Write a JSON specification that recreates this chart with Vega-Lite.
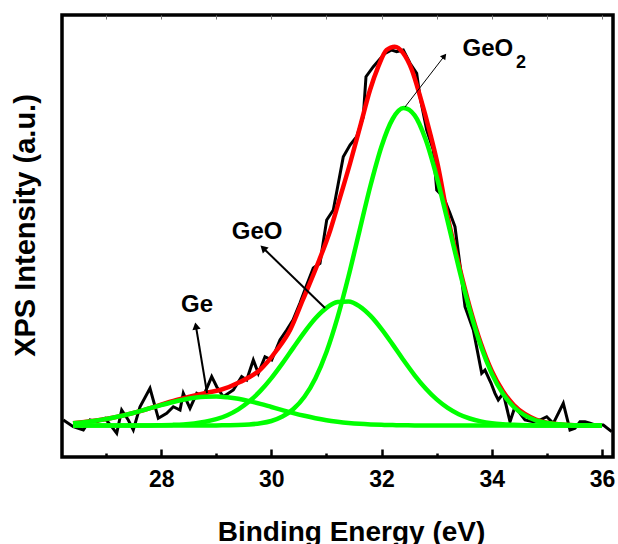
{
  "$schema": "https://vega.github.io/schema/vega-lite/v6.json",
  "width": 551,
  "height": 442,
  "autosize": {"type": "none"},
  "padding": {"left": 62, "top": 15, "right": 5, "bottom": 87},
  "config": {
    "font": "Liberation Sans",
    "view": {"stroke": "#000", "strokeWidth": 3.5},
    "axis": {"domain": false, "grid": false}
  },
  "datasets": {
    "raw": [
      {"E": 26.224, "I": 37}, {"E": 26.405, "I": 30.3}, {"E": 26.587, "I": 27}, {"E": 26.708, "I": 37},
      {"E": 26.83, "I": 35.3}, {"E": 26.98, "I": 38.7}, {"E": 27.102, "I": 30.3}, {"E": 27.193, "I": 23.7},
      {"E": 27.283, "I": 47}, {"E": 27.403, "I": 37}, {"E": 27.494, "I": 27}, {"E": 27.616, "I": 50.3},
      {"E": 27.797, "I": 68.7}, {"E": 27.948, "I": 38.7}, {"E": 28.1, "I": 43.7}, {"E": 28.22, "I": 50.3},
      {"E": 28.342, "I": 47}, {"E": 28.401, "I": 63.7}, {"E": 28.523, "I": 48.7}, {"E": 28.645, "I": 63.7},
      {"E": 28.764, "I": 60.3}, {"E": 28.917, "I": 80.3}, {"E": 29.008, "I": 70.3}, {"E": 29.127, "I": 60.3},
      {"E": 29.309, "I": 67}, {"E": 29.461, "I": 80.3}, {"E": 29.552, "I": 77}, {"E": 29.672, "I": 97},
      {"E": 29.763, "I": 83.7}, {"E": 29.884, "I": 100.3}, {"E": 30.006, "I": 97}, {"E": 30.156, "I": 117},
      {"E": 30.278, "I": 127}, {"E": 30.392, "I": 137}, {"E": 30.519, "I": 154}, {"E": 30.641, "I": 172},
      {"E": 30.761, "I": 189}, {"E": 30.882, "I": 193.7}, {"E": 31.004, "I": 237}, {"E": 31.124, "I": 247},
      {"E": 31.209, "I": 272}, {"E": 31.305, "I": 300.3}, {"E": 31.427, "I": 312}, {"E": 31.548, "I": 320.3},
      {"E": 31.668, "I": 340.3}, {"E": 31.717, "I": 380.3}, {"E": 31.85, "I": 390.3}, {"E": 32.062, "I": 403.7},
      {"E": 32.184, "I": 407}, {"E": 32.274, "I": 405.3}, {"E": 32.394, "I": 407}, {"E": 32.516, "I": 393.7},
      {"E": 32.637, "I": 383.7}, {"E": 32.697, "I": 360.3}, {"E": 32.819, "I": 327}, {"E": 32.939, "I": 307},
      {"E": 33.001, "I": 267}, {"E": 33.12, "I": 260.3}, {"E": 33.242, "I": 243.7}, {"E": 33.332, "I": 230.3},
      {"E": 33.423, "I": 192}, {"E": 33.514, "I": 150.3}, {"E": 33.665, "I": 127}, {"E": 33.817, "I": 83.7},
      {"E": 33.877, "I": 87}, {"E": 33.986, "I": 74}, {"E": 34.058, "I": 63.7}, {"E": 34.118, "I": 57},
      {"E": 34.209, "I": 63.7}, {"E": 34.331, "I": 35.3}, {"E": 34.421, "I": 50.3}, {"E": 34.512, "I": 43.7},
      {"E": 34.603, "I": 37}, {"E": 34.754, "I": 35.3}, {"E": 34.875, "I": 37}, {"E": 34.997, "I": 40.3},
      {"E": 35.117, "I": 33.7}, {"E": 35.298, "I": 53.7}, {"E": 35.42, "I": 27}, {"E": 35.51, "I": 28.7},
      {"E": 35.601, "I": 35.3}, {"E": 35.692, "I": 35.3}, {"E": 35.782, "I": 33.7}, {"E": 35.873, "I": 32},
      {"E": 36.024, "I": 32}, {"E": 36.176, "I": 25.3}
    ],
    "envelope": [
      {"E": 26.4, "I": 33.7}, {"E": 27.07, "I": 38.7}, {"E": 27.67, "I": 46.7}, {"E": 28.28, "I": 57},
      {"E": 28.83, "I": 64.3}, {"E": 29.07, "I": 67}, {"E": 29.43, "I": 75}, {"E": 29.79, "I": 87},
      {"E": 30.1, "I": 107}, {"E": 30.34, "I": 127}, {"E": 30.57, "I": 157}, {"E": 30.82, "I": 190.3},
      {"E": 31.07, "I": 227}, {"E": 31.25, "I": 260.3}, {"E": 31.43, "I": 294}, {"E": 31.61, "I": 330.3},
      {"E": 31.79, "I": 367}, {"E": 31.94, "I": 390.3}, {"E": 32.09, "I": 407}, {"E": 32.24, "I": 410.3},
      {"E": 32.39, "I": 404}, {"E": 32.55, "I": 387}, {"E": 32.7, "I": 360.3}, {"E": 32.88, "I": 324},
      {"E": 33.02, "I": 292}, {"E": 33.2, "I": 240}, {"E": 33.4, "I": 193}, {"E": 33.6, "I": 150},
      {"E": 33.8, "I": 114}, {"E": 34.0, "I": 86}, {"E": 34.2, "I": 66}, {"E": 34.4, "I": 52},
      {"E": 34.6, "I": 43}, {"E": 34.8, "I": 37.5}, {"E": 35.0, "I": 34.3}, {"E": 35.2, "I": 32.8},
      {"E": 35.4, "I": 32}, {"E": 35.6, "I": 31.6}, {"E": 36.0, "I": 31.5}
    ],
    "peaks": [
      {"c": "Ge", "E": 26.4, "I": 33.7}, {"c": "Ge", "E": 26.6, "I": 34.8}, {"c": "Ge", "E": 26.8, "I": 36.2},
      {"c": "Ge", "E": 27.0, "I": 38.0}, {"c": "Ge", "E": 27.2, "I": 40.2}, {"c": "Ge", "E": 27.4, "I": 42.8},
      {"c": "Ge", "E": 27.6, "I": 45.7}, {"c": "Ge", "E": 27.8, "I": 48.8}, {"c": "Ge", "E": 28.0, "I": 51.9},
      {"c": "Ge", "E": 28.2, "I": 54.8}, {"c": "Ge", "E": 28.4, "I": 57.3}, {"c": "Ge", "E": 28.6, "I": 59.2},
      {"c": "Ge", "E": 28.8, "I": 60.3}, {"c": "Ge", "E": 29.0, "I": 60.5}, {"c": "Ge", "E": 29.2, "I": 59.7},
      {"c": "Ge", "E": 29.4, "I": 58.2}, {"c": "Ge", "E": 29.6, "I": 55.9}, {"c": "Ge", "E": 29.8, "I": 53.1},
      {"c": "Ge", "E": 30.0, "I": 50.0}, {"c": "Ge", "E": 30.2, "I": 46.9}, {"c": "Ge", "E": 30.4, "I": 43.9},
      {"c": "Ge", "E": 30.6, "I": 41.2}, {"c": "Ge", "E": 30.8, "I": 38.8}, {"c": "Ge", "E": 31.0, "I": 36.8},
      {"c": "Ge", "E": 31.2, "I": 35.3}, {"c": "Ge", "E": 31.4, "I": 34.1}, {"c": "Ge", "E": 31.6, "I": 33.2},
      {"c": "Ge", "E": 31.8, "I": 32.6}, {"c": "Ge", "E": 32.0, "I": 32.2}, {"c": "Ge", "E": 32.2, "I": 31.9},
      {"c": "Ge", "E": 32.4, "I": 31.7}, {"c": "Ge", "E": 32.6, "I": 31.6}, {"c": "Ge", "E": 32.8, "I": 31.6},
      {"c": "Ge", "E": 33.0, "I": 31.5}, {"c": "Ge", "E": 33.5, "I": 31.5}, {"c": "Ge", "E": 34.0, "I": 31.5},
      {"c": "Ge", "E": 34.5, "I": 31.5}, {"c": "Ge", "E": 35.0, "I": 31.5}, {"c": "Ge", "E": 35.5, "I": 31.5},
      {"c": "Ge", "E": 36.0, "I": 31.5},
      {"c": "GeO", "E": 26.4, "I": 31.5}, {"c": "GeO", "E": 27.0, "I": 31.5}, {"c": "GeO", "E": 27.6, "I": 31.5},
      {"c": "GeO", "E": 27.8, "I": 31.6}, {"c": "GeO", "E": 28.0, "I": 31.8}, {"c": "GeO", "E": 28.2, "I": 32.1},
      {"c": "GeO", "E": 28.4, "I": 32.6}, {"c": "GeO", "E": 28.6, "I": 33.6}, {"c": "GeO", "E": 28.8, "I": 35.2},
      {"c": "GeO", "E": 29.0, "I": 37.8}, {"c": "GeO", "E": 29.2, "I": 41.8}, {"c": "GeO", "E": 29.4, "I": 47.7},
      {"c": "GeO", "E": 29.6, "I": 55.7}, {"c": "GeO", "E": 29.8, "I": 66.1}, {"c": "GeO", "E": 30.0, "I": 78.9},
      {"c": "GeO", "E": 30.2, "I": 93.6}, {"c": "GeO", "E": 30.4, "I": 109.4}, {"c": "GeO", "E": 30.6, "I": 124.9},
      {"c": "GeO", "E": 30.8, "I": 138.7}, {"c": "GeO", "E": 31.0, "I": 149.1}, {"c": "GeO", "E": 31.2, "I": 155.0},
      {"c": "GeO", "E": 31.4, "I": 155.6}, {"c": "GeO", "E": 31.6, "I": 150.7}, {"c": "GeO", "E": 31.8, "I": 141.1},
      {"c": "GeO", "E": 32.0, "I": 127.9}, {"c": "GeO", "E": 32.2, "I": 112.6}, {"c": "GeO", "E": 32.4, "I": 96.7},
      {"c": "GeO", "E": 32.6, "I": 81.7}, {"c": "GeO", "E": 32.8, "I": 68.5}, {"c": "GeO", "E": 33.0, "I": 57.6},
      {"c": "GeO", "E": 33.2, "I": 49.1}, {"c": "GeO", "E": 33.4, "I": 42.8}, {"c": "GeO", "E": 33.6, "I": 38.5},
      {"c": "GeO", "E": 33.8, "I": 35.6}, {"c": "GeO", "E": 34.0, "I": 33.8}, {"c": "GeO", "E": 34.2, "I": 32.8},
      {"c": "GeO", "E": 34.4, "I": 32.2}, {"c": "GeO", "E": 34.6, "I": 31.8}, {"c": "GeO", "E": 34.8, "I": 31.6},
      {"c": "GeO", "E": 35.0, "I": 31.5}, {"c": "GeO", "E": 35.5, "I": 31.5}, {"c": "GeO", "E": 36.0, "I": 31.5},
      {"c": "GeO2", "E": 26.4, "I": 31.5}, {"c": "GeO2", "E": 27.0, "I": 31.5}, {"c": "GeO2", "E": 27.6, "I": 31.5},
      {"c": "GeO2", "E": 28.2, "I": 31.5}, {"c": "GeO2", "E": 28.8, "I": 31.5}, {"c": "GeO2", "E": 29.0, "I": 31.6},
      {"c": "GeO2", "E": 29.2, "I": 31.7}, {"c": "GeO2", "E": 29.4, "I": 31.9}, {"c": "GeO2", "E": 29.6, "I": 32.5},
      {"c": "GeO2", "E": 29.8, "I": 33.7}, {"c": "GeO2", "E": 30.0, "I": 36.0}, {"c": "GeO2", "E": 30.2, "I": 40.4},
      {"c": "GeO2", "E": 30.4, "I": 48.0}, {"c": "GeO2", "E": 30.6, "I": 60.2}, {"c": "GeO2", "E": 30.8, "I": 78.8},
      {"c": "GeO2", "E": 31.0, "I": 105.0}, {"c": "GeO2", "E": 31.2, "I": 139.3}, {"c": "GeO2", "E": 31.4, "I": 180.7},
      {"c": "GeO2", "E": 31.6, "I": 226.4}, {"c": "GeO2", "E": 31.8, "I": 271.7}, {"c": "GeO2", "E": 32.0, "I": 310.8},
      {"c": "GeO2", "E": 32.2, "I": 338.0}, {"c": "GeO2", "E": 32.4, "I": 348.9}, {"c": "GeO2", "E": 32.6, "I": 341.6},
      {"c": "GeO2", "E": 32.8, "I": 317.4}, {"c": "GeO2", "E": 33.0, "I": 280.2}, {"c": "GeO2", "E": 33.2, "I": 235.6},
      {"c": "GeO2", "E": 33.4, "I": 189.6}, {"c": "GeO2", "E": 33.6, "I": 147.1}, {"c": "GeO2", "E": 33.8, "I": 111.2},
      {"c": "GeO2", "E": 34.0, "I": 83.4}, {"c": "GeO2", "E": 34.2, "I": 63.4}, {"c": "GeO2", "E": 34.4, "I": 50.0},
      {"c": "GeO2", "E": 34.6, "I": 41.6}, {"c": "GeO2", "E": 34.8, "I": 36.7}, {"c": "GeO2", "E": 35.0, "I": 34.0},
      {"c": "GeO2", "E": 35.2, "I": 32.7}, {"c": "GeO2", "E": 35.4, "I": 32.0}, {"c": "GeO2", "E": 35.6, "I": 31.7},
      {"c": "GeO2", "E": 35.8, "I": 31.6}, {"c": "GeO2", "E": 36.0, "I": 31.5}
    ],
    "arrows": [
      {"name": "GeO2", "x1": 32.425, "y1": 350, "x2": 33.14, "y2": 401},
      {"name": "GeO", "x1": 30.973, "y1": 149, "x2": 29.85, "y2": 209},
      {"name": "Ge", "x1": 28.832, "y1": 64, "x2": 28.63, "y2": 131}
    ],
    "labels": [
      {"t": "GeO", "E": 33.93, "I": 408},
      {"t": "2", "E": 34.53, "I": 394},
      {"t": "GeO", "E": 29.74, "I": 225},
      {"t": "Ge", "E": 28.65, "I": 152}
    ]
  },
  "resolve": {"axis": {"x": "independent", "y": "independent"}},
  "layer": [
    {
      "data": {"name": "raw"},
      "mark": {"type": "line", "color": "#000000", "strokeWidth": 3},
      "encoding": {
        "x": {
          "field": "E", "type": "quantitative",
          "scale": {"domain": [26.2, 36.2], "nice": false, "zero": false},
          "axis": {
            "orient": "bottom",
            "values": [27, 28, 29, 30, 31, 32, 33, 34, 35, 36],
            "title": "Binding Energy (eV)",
            "labelExpr": "datum.value % 2 === 0 ? datum.label : ''",
            "tickSize": {"condition": {"test": "datum.value % 2 === 0", "value": -8}, "value": -4},
            "tickWidth": 2.5,
            "tickColor": "#000000",
            "labelFontSize": 23,
            "labelFontWeight": "bold",
            "labelColor": "#000000",
            "labelPadding": 19,
            "labelFlush": false,
            "labelOverlap": false,
            "titleFontSize": 28,
            "titleFontWeight": "bold",
            "titleColor": "#000000",
            "titleX": 289,
            "titleY": 83,
            "titleBaseline": "alphabetic"
          }
        },
        "y": {
          "field": "I", "type": "quantitative",
          "scale": {"domain": [0, 442], "nice": false, "zero": false},
          "axis": {
            "title": "XPS Intensity (a.u.)",
            "ticks": false, "labels": false, "domain": false,
            "titleFontSize": 29, "titleFontWeight": "bold", "titleColor": "#000000",
            "titleX": -37, "titleY": 210, "titleBaseline": "middle", "titleAlign": "center"
          }
        }
      }
    },
    {
      "data": {"name": "envelope"},
      "mark": {"type": "line", "color": "#ff0000", "strokeWidth": 4.5, "interpolate": "monotone"},
      "encoding": {
        "x": {"field": "E", "type": "quantitative", "axis": null},
        "y": {"field": "I", "type": "quantitative", "axis": null}
      }
    },
    {
      "data": {"name": "peaks"},
      "mark": {"type": "line", "color": "#00ff00", "strokeWidth": 4.5, "interpolate": "monotone"},
      "encoding": {
        "x": {
          "field": "E", "type": "quantitative",
          "axis": {
            "orient": "top", "values": [27, 28, 29, 30, 31, 32, 33, 34, 35, 36],
            "labels": false, "title": null, "tickSize": -4, "tickColor": "#777777", "tickWidth": 1
          }
        },
        "y": {"field": "I", "type": "quantitative", "axis": null},
        "detail": {"field": "c"}
      }
    },
    {
      "data": {"name": "arrows"},
      "mark": {"type": "rule", "color": "#000000"},
      "encoding": {
        "x": {"field": "x1", "type": "quantitative", "axis": null},
        "y": {"field": "y1", "type": "quantitative", "axis": null},
        "x2": {"field": "x2"},
        "y2": {"field": "y2"},
        "strokeWidth": {"condition": {"test": "datum.name === 'GeO2'", "value": 1}, "value": 2}
      }
    },
    {
      "data": {"name": "arrows"},
      "mark": {"type": "point", "shape": "triangle-up", "filled": true, "color": "#000000", "opacity": 1},
      "encoding": {
        "x": {"field": "x2", "type": "quantitative", "axis": null},
        "y": {"field": "y2", "type": "quantitative", "axis": null},
        "angle": {"condition": [{"test": "datum.name === 'GeO2'", "value": 38}, {"test": "datum.name === 'GeO'", "value": -46}], "value": -10},
        "size": {"condition": {"test": "datum.name === 'GeO2'", "value": 45}, "value": 70}
      }
    },
    {
      "data": {"name": "labels"},
      "mark": {"type": "text", "font": "Liberation Sans", "fontWeight": "bold", "color": "#000000", "align": "center", "baseline": "middle"},
      "encoding": {
        "x": {"field": "E", "type": "quantitative", "axis": null},
        "y": {"field": "I", "type": "quantitative", "axis": null},
        "text": {"field": "t"},
        "size": {"condition": {"test": "datum.t === '2'", "value": 18}, "value": 24}
      }
    }
  ]
}
